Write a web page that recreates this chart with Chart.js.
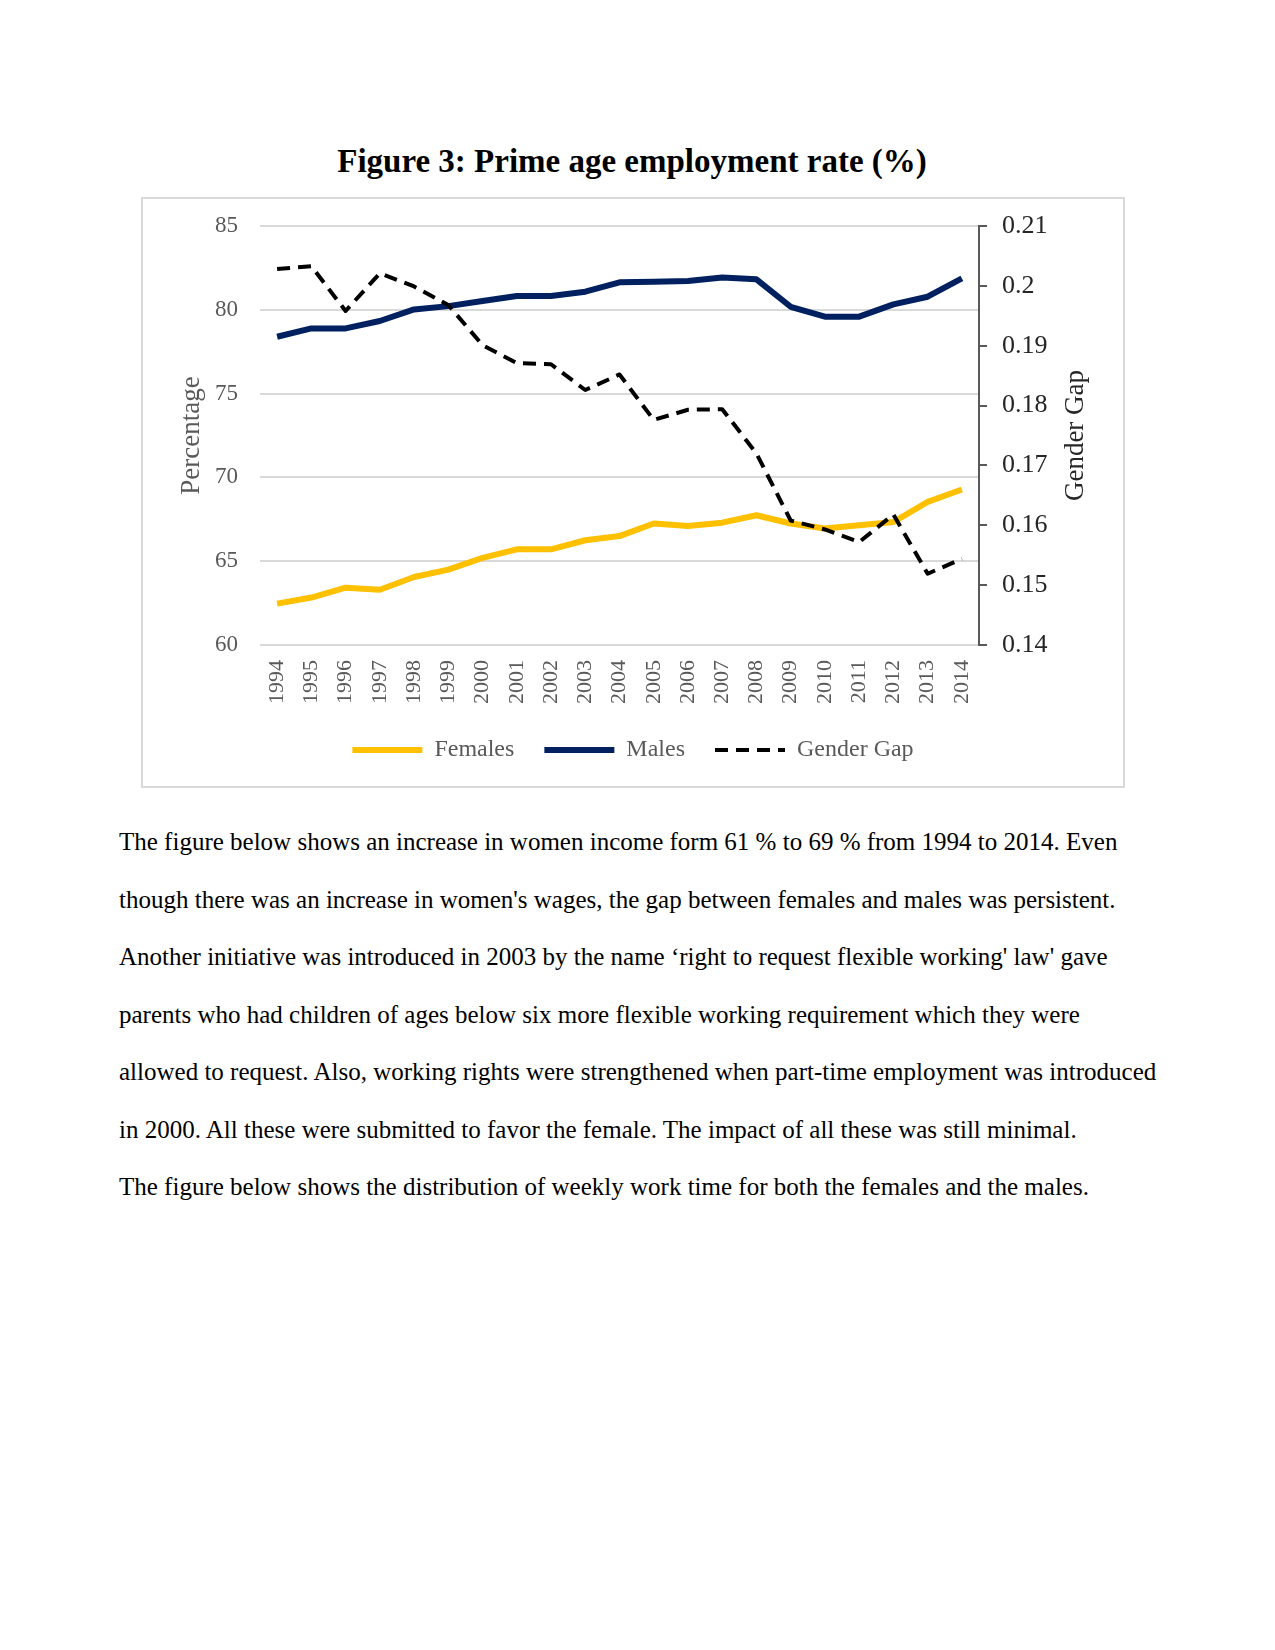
<!DOCTYPE html>
<html>
<head>
<meta charset="utf-8">
<script src="https://cdn.jsdelivr.net/npm/chart.js@4.4.1/dist/chart.umd.min.js"></script>
<style>
  body { margin: 0; background: #fff; font-family: "Liberation Serif", "Times New Roman", serif; }
  #page { position: relative; width: 1275px; height: 1650px; }
  #title { position: absolute; left: 132px; top: 141px; width: 1000px; text-align: center;
           font-size: 33px; font-weight: bold; line-height: 40px; color: #000; }
  #box { position: absolute; left: 141px; top: 197px; width: 980px; height: 587px;
         border: 2px solid #d9d9d9; }
  #text { position: absolute; left: 119px; top: 813px; font-size: 25px; line-height: 57.5px; color: #000; }
  #text div { white-space: nowrap; }
</style>
</head>
<body>
<div id="page">
  <div id="title">Figure 3: Prime age employment rate (%)</div>
  <div id="box"><canvas id="myChart" width="980" height="587"></canvas></div>
  <div id="text">
    <div>The figure below shows an increase in women income form 61 % to 69 % from 1994 to 2014. Even</div>
    <div>though there was an increase in women's wages, the gap between females and males was persistent.</div>
    <div>Another initiative was introduced in 2003 by the name ‘right to request flexible working' law' gave</div>
    <div>parents who had children of ages below six more flexible working requirement which they were</div>
    <div>allowed to request. Also, working rights were strengthened when part-time employment was introduced</div>
    <div>in 2000. All these were submitted to favor the female. The impact of all these was still minimal.</div>
    <div>The figure below shows the distribution of weekly work time for both the females and the males.</div>
  </div>
</div>
<script>
// datos
const years = ['1994', '1995', '1996', '1997', '1998', '1999', '2000', '2001', '2002', '2003', '2004',
               '2005', '2006', '2007', '2008', '2009', '2010', '2011', '2012', '2013', '2014'];
const females = [62.47, 62.83, 63.42, 63.30, 64.06, 64.50, 65.20, 65.71, 65.71, 66.25, 66.50,
                 67.25, 67.10, 67.30, 67.74, 67.25, 66.95, 67.15, 67.34, 68.54, 69.28];
const males = [78.39, 78.89, 78.89, 79.33, 80.02, 80.22, 80.52, 80.82, 80.82, 81.08, 81.64,
               81.68, 81.72, 81.93, 81.82, 80.18, 79.59, 79.59, 80.32, 80.78, 81.88];
const gap = [0.2028, 0.2033, 0.1958, 0.2021, 0.1999, 0.1968, 0.1901, 0.1871, 0.1869, 0.1826, 0.1852,
             0.1776, 0.1793, 0.1794, 0.1720, 0.1608, 0.1593, 0.1572, 0.1618, 0.1519, 0.1544];
const pctTicks = [60, 65, 70, 75, 80, 85];
const gapTicks = [0.14, 0.15, 0.16, 0.17, 0.18, 0.19, 0.2, 0.21];
const leftTitle = 'Percentage';
const rightTitle = 'Gender Gap';

Chart.defaults.font.family = '"Liberation Serif", "Times New Roman", serif';

// titulo del eje derecho, leido de abajo hacia arriba
const gapTitle = {
    id: 'gapTitle',
    afterDraw(chart) {
        const s = chart.scales.y2;
        const ctx = chart.ctx;
        ctx.save();
        ctx.translate(s.right - 47, (s.top + s.bottom) / 2);
        ctx.rotate(-Math.PI / 2);
        ctx.font = '27px "Liberation Serif"';
        ctx.fillStyle = '#262626';
        ctx.textAlign = 'center';
        ctx.textBaseline = 'middle';
        ctx.fillText(rightTitle, 0, 0);
        ctx.restore();
    }
};

// sin margen extra de las etiquetas en los ejes verticales
function noVerticalPadding(scale, width) {
    scale.width = width;
    scale.paddingTop = 0;
    scale.paddingBottom = 0;
}

const ctx = document.getElementById('myChart').getContext('2d');
const myChart = new Chart(ctx, {
    type: 'line',
    data: {
        labels: years,
        datasets: [
            {
                label: 'Females',
                data: females,
                borderColor: '#FFC000',
                backgroundColor: '#FFC000',
                borderWidth: 6,
                yAxisID: 'y',
                order: 1
            },
            {
                label: 'Males',
                data: males,
                borderColor: '#002060',
                backgroundColor: '#002060',
                borderWidth: 6,
                yAxisID: 'y',
                order: 2
            },
            {
                label: 'Gender Gap',
                data: gap,
                borderColor: '#000000',
                backgroundColor: '#000000',
                borderWidth: 4,
                borderDash: [13, 8],
                yAxisID: 'y2',
                order: 0
            }
        ]
    },
    options: {
        responsive: false,
        animation: false,
        elements: {
            point: { radius: 0 },
            line: { tension: 0, borderJoinStyle: 'round', borderCapStyle: 'butt' }
        },
        layout: {
            padding: { top: 27, left: 0, right: 0, bottom: 14 }
        },
        plugins: {
            tooltip: { enabled: false },
            legend: {
                position: 'bottom',
                labels: {
                    usePointStyle: true,
                    pointStyleWidth: 70,
                    padding: 30,
                    color: '#595959',
                    font: { size: 24 },
                    generateLabels: function(chart) {
                        return chart.data.datasets.map((ds, i) => ({
                            text: ds.label,
                            fillStyle: ds.borderColor,
                            strokeStyle: ds.borderColor,
                            lineWidth: ds.borderWidth,
                            lineDash: ds.borderDash || [],
                            lineCap: 'butt',
                            pointStyle: 'line',
                            fontColor: '#595959',
                            hidden: false,
                            datasetIndex: i
                        }));
                    }
                }
            }
        },
        scales: {
            x: {
                offset: true,
                grid: { display: false, drawTicks: false },
                border: { display: false },
                ticks: {
                    autoSkip: false,
                    minRotation: 90,
                    maxRotation: 90,
                    padding: 15,
                    color: '#595959',
                    font: { size: 22 }
                },
                afterFit: function(scale) { scale.height = 63; }
            },
            y: {
                position: 'left',
                min: 60,
                max: 85,
                afterBuildTicks: function(scale) {
                    scale.ticks = pctTicks.map(v => ({ value: v }));
                },
                grid: { color: '#d9d9d9', lineWidth: 2, drawTicks: false },
                border: { display: false },
                ticks: { padding: 22, color: '#595959', font: { size: 23 } },
                title: {
                    display: true,
                    text: leftTitle,
                    color: '#595959',
                    font: { size: 27 },
                    padding: { top: 33, bottom: 0 }
                },
                afterFit: function(scale) { noVerticalPadding(scale, 117); }
            },
            y2: {
                position: 'right',
                min: 0.14,
                max: 0.21,
                afterBuildTicks: function(scale) {
                    scale.ticks = gapTicks.map(v => ({ value: v }));
                },
                grid: {
                    display: true,
                    drawOnChartArea: false,
                    drawTicks: true,
                    tickLength: 8,
                    color: '#595959',
                    lineWidth: 2
                },
                border: { display: true, color: '#595959', width: 2 },
                ticks: {
                    padding: 15,
                    color: '#262626',
                    font: { size: 26 },
                    callback: function(value) { return String(value); }
                },
                afterFit: function(scale) { noVerticalPadding(scale, 144); }
            }
        }
    },
    plugins: [gapTitle]
});
</script>
</body>
</html>
